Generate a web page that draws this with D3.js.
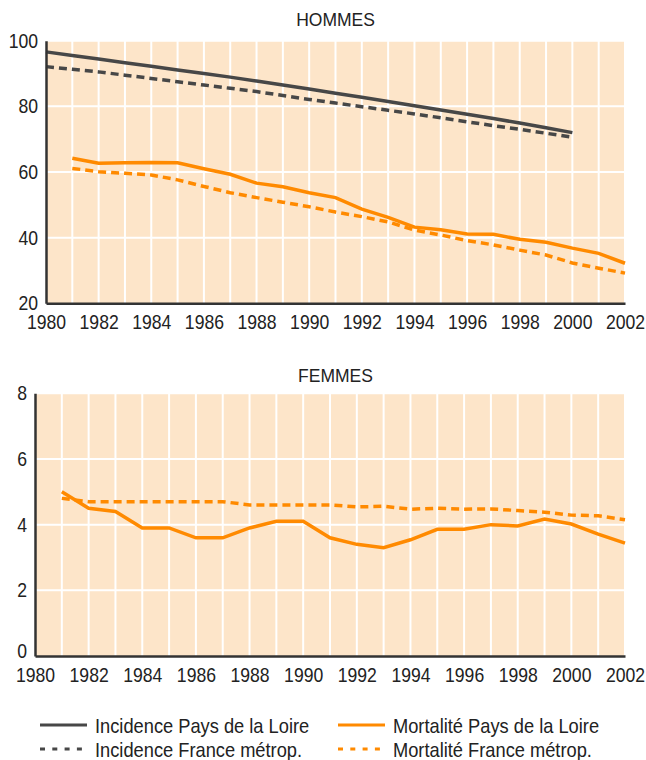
<!DOCTYPE html>
<html>
<head>
<meta charset="utf-8">
<script src="https://cdn.jsdelivr.net/npm/d3@7"></script>
<style>
  body { margin: 0; background: #fff; }
  svg text { font-family: "Liberation Sans", Arial, sans-serif; fill: #222; }
</style>
</head>
<body>
<svg width="646" height="760"></svg>
<script>
// data
var years = d3.range(1980, 2003);

var incidencePdlH = [96.6, 95.5, 94.4, 93.3, 92.2, 91.1, 90.0, 88.9, 87.7, 86.5, 85.3, 84.0, 82.8, 81.5, 80.2, 78.9, 77.6, 76.3, 74.9, 73.5, 72.0, null, null];
var incidenceFrH = [92.1, 91.3, 90.5, 89.5, 88.5, 87.5, 86.5, 85.5, 84.5, 83.3, 82.1, 81.0, 79.9, 78.8, 77.7, 76.5, 75.3, 74.1, 73.0, 71.8, 70.6, null, null];
var mortalitePdlH = [null, 64.2, 62.7, 62.8, 62.9, 62.8, 61.0, 59.3, 56.6, 55.5, 53.7, 52.2, 48.7, 46.2, 43.2, 42.4, 41.1, 41.0, 39.5, 38.6, 36.8, 35.2, 32.2];
var mortaliteFrH = [null, 61.1, 60.1, 59.6, 59.1, 57.6, 55.6, 53.7, 52.2, 50.8, 49.4, 47.8, 46.4, 44.8, 42.3, 40.8, 39.1, 37.8, 36.2, 34.7, 32.3, 30.7, 29.2];

var mortalitePdlF = [null, 5.0, 4.5, 4.4, 3.9, 3.9, 3.6, 3.6, 3.9, 4.1, 4.1, 3.6, 3.4, 3.3, 3.54, 3.86, 3.86, 4.0, 3.96, 4.17, 4.02, 3.71, 3.44];
var mortaliteFrF = [null, 4.8, 4.7, 4.7, 4.7, 4.7, 4.7, 4.7, 4.6, 4.6, 4.6, 4.6, 4.54, 4.56, 4.47, 4.5, 4.47, 4.48, 4.43, 4.38, 4.29, 4.27, 4.15];

var yearTicks = d3.range(1980, 2003, 2);
var ticksH = [20, 40, 60, 80, 100];
var ticksF = [0, 2, 4, 6, 8];

var legendLabels = ["Incidence Pays de la Loire", "Incidence France métrop.", "Mortalité Pays de la Loire", "Mortalité France métrop."];

var grey = "#474747", orange = "#ff8a00", bg = "#fde5c9";
var squeeze = "scale(0.88,1)"; // the original font is a condensed one

var svg = d3.select("svg");

function panel(opts) {
  var x = d3.scaleLinear().domain([1980, 2002]).range([opts.left, opts.right]);
  var y = d3.scaleLinear().domain(opts.domain).range([opts.bottom, opts.top]);
  var g = svg.append("g");

  g.append("rect")
      .attr("x", opts.left).attr("y", opts.top)
      .attr("width", opts.right - opts.left).attr("height", opts.bottom - opts.top)
      .attr("fill", bg);

  // white grid
  g.append("g").selectAll("line")
    .data(years.slice(1))
    .enter().append("line")
      .attr("x1", function(d) { return x(d); }).attr("x2", function(d) { return x(d); })
      .attr("y1", opts.top).attr("y2", opts.bottom)
      .attr("stroke", "#fff").attr("stroke-width", 2);
  g.append("g").selectAll("line")
    .data(opts.ticks.slice(1))
    .enter().append("line")
      .attr("x1", opts.left).attr("x2", opts.right)
      .attr("y1", function(d) { return y(d); }).attr("y2", function(d) { return y(d); })
      .attr("stroke", "#fff").attr("stroke-width", 2);

  var line = d3.line()
      .defined(function(d) { return d[1] != null; })
      .x(function(d) { return x(d[0]); })
      .y(function(d) { return y(d[1]); });

  opts.series.forEach(function(s) {
    g.append("path")
      .datum(years.map(function(yr, i) { return [yr, s.values[i]]; }))
      .attr("d", line)
      .attr("fill", "none")
      .attr("stroke", s.color)
      .attr("stroke-width", 3.5)
      .attr("stroke-dasharray", s.dashed ? "8,5" : null);
  });

  var xAxis = g.append("g")
      .attr("transform", "translate(0," + opts.bottom + ")")
      .call(d3.axisBottom(x).tickValues(yearTicks).tickFormat(d3.format("d")).tickSize(0).tickPadding(12));
  xAxis.select(".domain").attr("stroke", "#333").attr("stroke-width", 2.5);
  xAxis.selectAll("text").attr("font-size", 20).attr("fill", "#222").attr("transform", squeeze);

  var yAxis = g.append("g")
      .attr("transform", "translate(" + opts.left + ",0)")
      .call(d3.axisLeft(y).tickValues(opts.ticks).tickSize(0).tickPadding(9));
  yAxis.select(".domain").attr("stroke", "#333").attr("stroke-width", 2.5);
  yAxis.selectAll("text").attr("font-size", 20).attr("fill", "#222").attr("transform", squeeze);

  // lowest label sits a little higher, clear of the year labels
  if (opts.liftFirst) {
    yAxis.selectAll(".tick text").filter(function(d) { return d === opts.domain[0]; })
        .attr("dy", "0.05em");
  }

  g.append("text")
      .attr("x", 335.5).attr("y", opts.titleY)
      .attr("text-anchor", "middle")
      .attr("font-size", 17.5)
      .text(opts.title);
}

panel({
  title: "HOMMES", titleY: 26, left: 46, right: 625, top: 40.7, bottom: 303.3,
  domain: [20, 100], ticks: ticksH, liftFirst: false,
  series: [
    { values: incidencePdlH, color: grey, dashed: false },
    { values: incidenceFrH, color: grey, dashed: true },
    { values: mortalitePdlH, color: orange, dashed: false },
    { values: mortaliteFrH, color: orange, dashed: true }
  ]
});

panel({
  title: "FEMMES", titleY: 382, left: 35, right: 625, top: 393.3, bottom: 656,
  domain: [0, 8], ticks: ticksF, liftFirst: true,
  series: [
    { values: mortalitePdlF, color: orange, dashed: false },
    { values: mortaliteFrF, color: orange, dashed: true }
  ]
});

// legend
var legendItems = [
  { label: legendLabels[0], color: grey, dashed: false, x: 40, y: 725 },
  { label: legendLabels[1], color: grey, dashed: true, x: 40, y: 749 },
  { label: legendLabels[2], color: orange, dashed: false, x: 338, y: 725 },
  { label: legendLabels[3], color: orange, dashed: true, x: 338, y: 749 }
];
var leg = svg.append("g").selectAll("g")
    .data(legendItems)
    .enter().append("g")
      .attr("transform", function(d) { return "translate(" + d.x + "," + d.y + ")"; });
leg.append("line")
    .attr("x1", 0).attr("x2", 47).attr("y1", 0).attr("y2", 0)
    .attr("stroke", function(d) { return d.color; })
    .attr("stroke-width", 3)
    .attr("stroke-dasharray", function(d) { return d.dashed ? "5,7.3" : null; });
leg.append("g")
    .attr("transform", "translate(55,8)")
  .append("text")
    .attr("font-size", 21)
    .attr("transform", "scale(0.87,1)")
    .text(function(d) { return d.label; });
</script>
</body>
</html>
